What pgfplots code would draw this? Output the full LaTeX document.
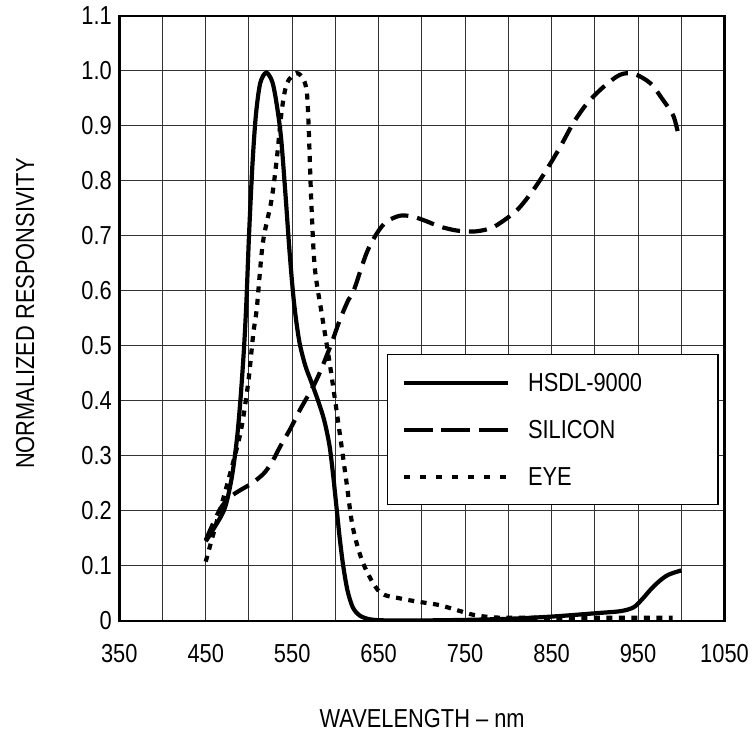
\documentclass[border=0pt]{standalone}
\usepackage{fontspec}
\setmainfont{Liberation Sans}[FakeStretch=0.84]
\usepackage{pgfplots}
\pgfplotsset{compat=1.18}
\newcommand{\chartfont}{\fontsize{26bp}{30bp}\selectfont}

\begin{document}
\begin{tikzpicture}[font=\chartfont]
\path[use as bounding box] (0,0) rectangle (752bp,733bp);
\begin{axis}[
    at={(119.3bp,112bp)}, anchor=south west,
    scale only axis, width=605.2bp, height=605bp,
    xmin=350, xmax=1050, ymin=0, ymax=1.1,
    xtick={350,450,550,650,750,850,950,1050},
    minor xtick={400,500,600,700,800,900,1000},
    xticklabels={350,450,550,650,750,850,950,1050},
    ytick={0,0.1,0.2,0.3,0.4,0.5,0.6,0.7,0.8,0.9,1.0,1.1},
    yticklabels={0,0.1,0.2,0.3,0.4,0.5,0.6,0.7,0.8,0.9,1.0,1.1},
    /pgf/number format/assume math mode=true,
    grid=both,
    major grid style={line width=1bp, black!80},
    minor grid style={line width=1bp, black!80},
    major tick length=0, minor tick length=0,
    axis line style={line width=2.5bp},
    xticklabel style={anchor=center, yshift=-33bp},
    yticklabel style={xshift=-4bp},
    xlabel={WAVELENGTH -- nm},
    ylabel={NORMALIZED RESPONSIVITY},
    xlabel style={at={(axis description cs:0.5004,-0.162)}, anchor=center},
    ylabel style={at={(axis description cs:-0.1554,0.508)}, anchor=center},
    legend cell align=left,
    legend style={at={(axis description cs:0.4426,0.441)}, anchor=north west,
        draw=black, line width=1.3bp, fill=white,
        inner xsep=14bp, inner ysep=18bp, row sep=27.5bp, column sep=18bp,
        nodes={inner sep=0pt}, font=\chartfont},
]
% HSDL-9000
\addplot[black, line width=4.2bp, smooth, tension=0.5,
    legend image code/.code={\draw[black, line width=4.2bp] (0bp,0bp) -- (104bp,0bp);}]
coordinates {
    (450,0.145) (460,0.17) (472,0.205) (480,0.26) (486,0.33) (490,0.40)
    (494,0.49) (497,0.58) (500,0.70) (504,0.83) (508,0.92) (513,0.978)
    (520,0.997) (527,0.98) (532,0.94) (537,0.88) (542,0.78) (547,0.67)
    (552,0.58) (558,0.51) (565,0.465) (572,0.435) (580,0.40) (587,0.365)
    (593,0.32) (597,0.27) (601,0.21) (605,0.15) (609,0.10) (614,0.055)
    (620,0.025) (628,0.01) (640,0.003) (660,0.001) (700,0.001) (750,0.002)
    (800,0.004) (850,0.008) (900,0.014) (930,0.018) (945,0.025) (955,0.04)
    (965,0.058) (975,0.073) (985,0.084) (1000,0.092)
};
\addlegendentry{HSDL-9000\hspace*{62bp}}
% SILICON
\addplot[black, line width=4.2bp, dash pattern=on 18bp off 9bp, smooth, tension=0.5,
    legend image code/.code={\draw[black, line width=4.2bp, dash pattern=on 29bp off 8.5bp] (0bp,0bp) -- (104bp,0bp);}]
coordinates {
    (450,0.147) (466,0.202) (478,0.225) (490,0.238) (503,0.25) (517,0.268)
    (527,0.29) (536,0.317) (548,0.35) (559,0.384) (578,0.438) (594,0.499)
    (605,0.547) (615,0.584) (621,0.60) (636,0.669) (648,0.705) (659,0.726)
    (675,0.737) (690,0.735) (705,0.727) (721,0.717) (740,0.71) (759,0.708)
    (775,0.712) (787,0.72) (810,0.747) (829,0.784) (844,0.82) (860,0.862)
    (875,0.905) (891,0.941) (910,0.971) (929,0.993) (945,0.995) (964,0.978)
    (979,0.947) (991,0.918) (998,0.875)
};
\addlegendentry{SILICON}
% EYE
\addplot[black, line width=4.2bp, dash pattern=on 6bp off 6.5bp, smooth, tension=0.5,
    legend image code/.code={\draw[black, line width=4.2bp, dash pattern=on 6bp off 10bp] (0bp,0bp) -- (104bp,0bp);}]
coordinates {
    (450,0.108) (461,0.171) (474,0.244) (490,0.341) (499,0.432) (505,0.523)
    (509,0.568) (516,0.687) (526,0.765) (532,0.838) (538,0.929) (544,0.978)
    (555,0.996) (563,0.985) (567,0.96) (569,0.899) (572,0.765) (576,0.644)
    (584,0.56) (594,0.462) (605,0.341) (613,0.25) (620,0.171) (632,0.105)
    (651,0.053) (675,0.041) (700,0.034) (720,0.029) (740,0.02) (760,0.011)
    (780,0.007) (800,0.006) (900,0.006) (990,0.006)
};
\addlegendentry{EYE}
\end{axis}
\end{tikzpicture}
\end{document}
